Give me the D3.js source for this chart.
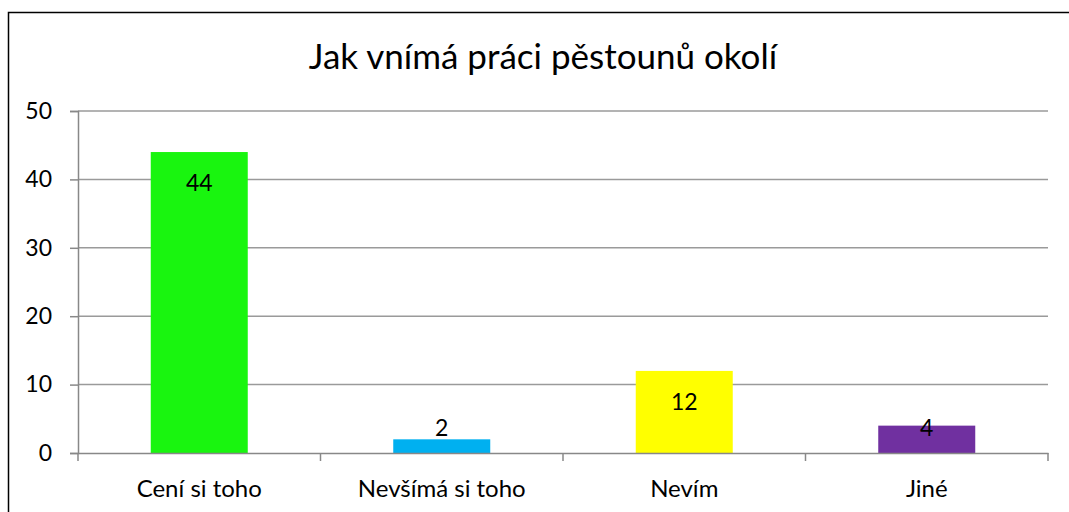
<!DOCTYPE html>
<html><head><meta charset="utf-8">
<script src="https://cdn.jsdelivr.net/npm/d3@7"></script>
<style>body{margin:0;background:#fff}svg{display:block;font-family:Lato,"Open Sans",sans-serif}</style>
</head><body>
<svg id="c" width="1069" height="512"></svg>
<script>
const title = "Jak vnímá práci pěstounů okolí";
const categories = ["Cení si toho", "Nevšímá si toho", "Nevím", "Jiné"];
const values = [44, 2, 12, 4];
const colors = ["#19F50F", "#00B0F0", "#FFFF00", "#7030A0"];
const yTicks = [0, 10, 20, 30, 40, 50];

(function () {
const svg = d3.select("#c");
const FF = "Lato,'Open Sans',sans-serif";
svg.append("rect").attr("x", 8.5).attr("y", 12.5).attr("width", 1080).attr("height", 520)
  .attr("fill", "#fff").attr("stroke", "#000").attr("stroke-width", 1.5);

const pL = 78, pR = 1048, pT = 111, pB = 453;
const x = d3.scaleBand().domain(categories).range([pL, pR]).paddingInner(0.6).paddingOuter(0.3);
const xb = d3.scaleBand().domain(categories).range([pL, pR]);
const y = d3.scaleLinear().domain([0, 50]).range([pB, pT]);

svg.append("text").attr("x", 543).attr("y", 69).attr("text-anchor", "middle")
  .attr("font-size", 35).attr("fill", "#000").text(title);

// gridlines
svg.append("g").selectAll("line").data(yTicks.slice(1)).join("line")
  .attr("x1", pL).attr("x2", pR).attr("y1", d => y(d)).attr("y2", d => y(d))
  .attr("stroke", "#9a9a9a").attr("stroke-width", 1.5);

// bars
svg.append("g").selectAll("rect").data(values).join("rect")
  .attr("x", (d, i) => x(categories[i])).attr("width", x.bandwidth())
  .attr("y", d => y(d)).attr("height", d => pB - y(d))
  .attr("fill", (d, i) => colors[i]);

// y axis
const ya = svg.append("g").attr("transform", `translate(${pL},0)`)
  .call(d3.axisLeft(y).tickValues(yTicks).tickSize(8).tickPadding(18));
ya.select(".domain").attr("stroke", "#888").attr("stroke-width", 1.5);
ya.selectAll(".tick line").attr("stroke", "#888").attr("stroke-width", 1.5);
ya.selectAll(".tick text").attr("font-size", 23).attr("fill", "#000").attr("font-family", FF);

// x axis
const xa = svg.append("g").attr("transform", `translate(0,${pB})`)
  .call(d3.axisBottom(xb).tickSize(0).tickPadding(27));
xa.select(".domain").attr("stroke", "#888").attr("stroke-width", 1.5);
xa.selectAll(".tick text").attr("font-size", 24).attr("fill", "#000").attr("font-family", FF);
svg.append("g").selectAll("line").data(d3.range(categories.length + 1)).join("line")
  .attr("x1", i => pL + i * xb.step()).attr("x2", i => pL + i * xb.step())
  .attr("y1", pB).attr("y2", pB + 8).attr("stroke", "#888").attr("stroke-width", 1.5);

// value labels
svg.append("g").selectAll("text").data(values).join("text")
  .attr("x", (d, i) => x(categories[i]) + x.bandwidth() / 2)
  .attr("y", d => Math.min(y(d) + 31, 428))
  .attr("dy", "0.35em").attr("text-anchor", "middle").attr("font-size", 23).attr("fill", "#000")
  .text(d => d);
})();
</script>
</body></html>
